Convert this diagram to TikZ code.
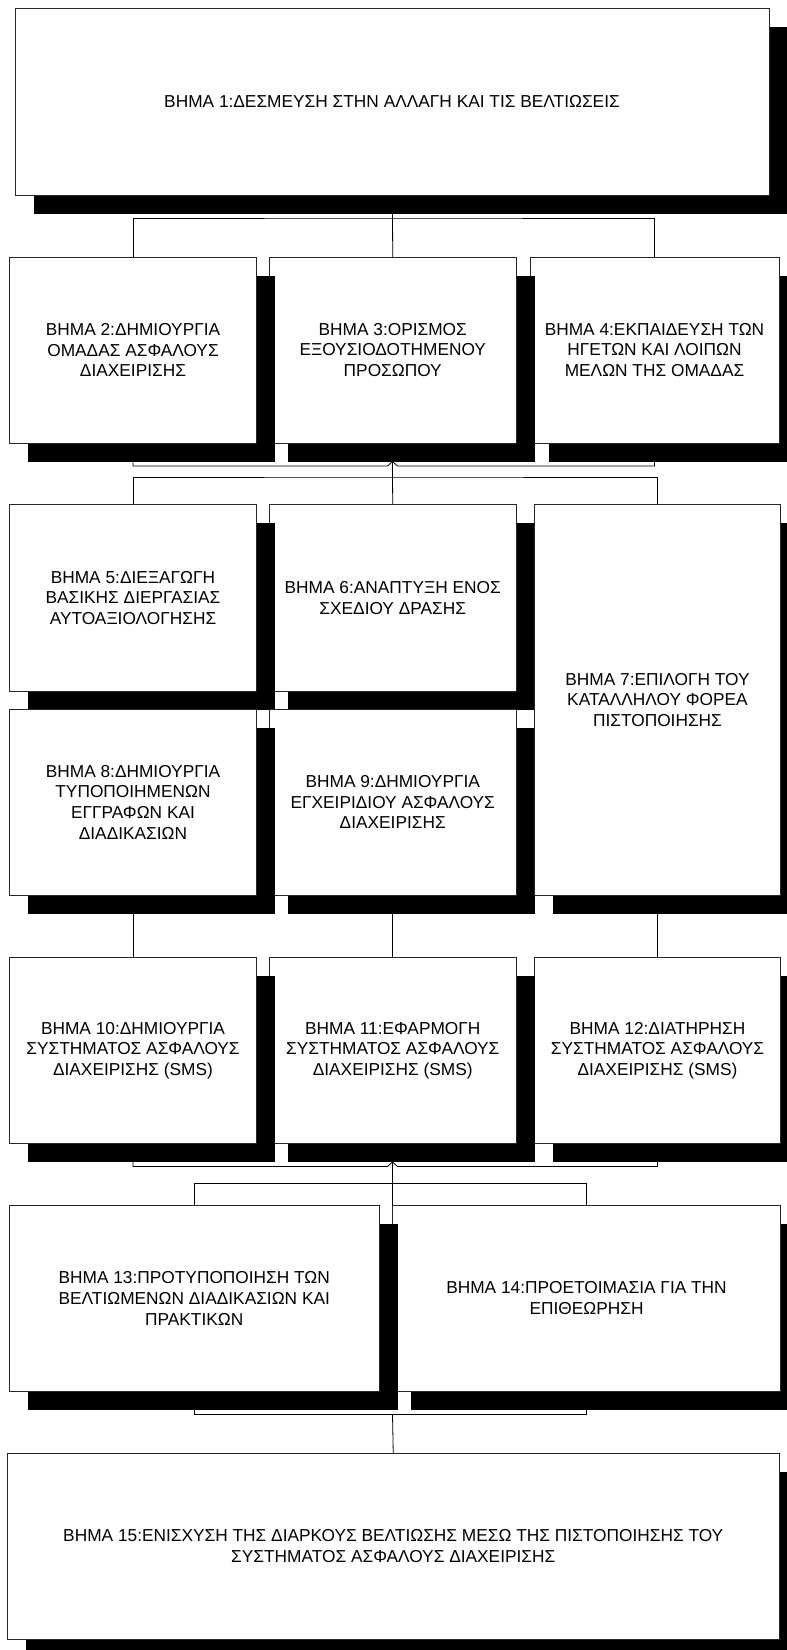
\documentclass[tikz,border=0pt]{standalone}
\usepackage{fontspec}
\setmainfont{Liberation Sans}
\usetikzlibrary{shadows}
\pgfdeclarelayer{background}
\pgfsetlayers{background,main}
\tikzset{
  stepbox/.style={draw=black!85, line width=0.9pt, fill=white, inner sep=0pt, outer sep=0pt,
    align=center, anchor=north west,
    font=\fontsize{17.3}{20.7}\selectfont,
    drop shadow={fill=black, opacity=1, shadow xshift=18.5pt, shadow yshift=-18.5pt}},
  conn/.style={draw=black, line width=0.8pt}
}
\begin{document}
\begin{tikzpicture}[x=1pt, y=-1pt]
\useasboundingbox (0,0) rectangle (787,1650);
\clip (0,0) rectangle (787,1650);

% Row 1
\node[stepbox, minimum width=754pt, minimum height=187pt] (b1) at (15,8)
  {ΒΗΜΑ 1:ΔΕΣΜΕΥΣΗ ΣΤΗΝ ΑΛΛΑΓΗ ΚΑΙ ΤΙΣ ΒΕΛΤΙΩΣΕΙΣ};

% Row 2 (right to left)
\node[stepbox, minimum width=249pt, minimum height=186pt] (b4) at (530,257)
  {ΒΗΜΑ 4:ΕΚΠΑΙΔΕΥΣΗ ΤΩΝ\\ΗΓΕΤΩΝ ΚΑΙ ΛΟΙΠΩΝ\\ΜΕΛΩΝ ΤΗΣ ΟΜΑΔΑΣ};
\node[stepbox, minimum width=246.5pt, minimum height=186pt] (b3) at (269.5,257)
  {ΒΗΜΑ 3:ΟΡΙΣΜΟΣ\\ΕΞΟΥΣΙΟΔΟΤΗΜΕΝΟΥ\\ΠΡΟΣΩΠΟΥ};
\node[stepbox, minimum width=247pt, minimum height=186pt] (b2) at (9.5,257)
  {ΒΗΜΑ 2:ΔΗΜΙΟΥΡΓΙΑ\\ΟΜΑΔΑΣ ΑΣΦΑΛΟΥΣ\\ΔΙΑΧΕΙΡΙΣΗΣ};

% Row 3
\node[stepbox, minimum width=246.5pt, minimum height=186.5pt] (b6) at (269.5,504.5)
  {ΒΗΜΑ 6:ΑΝΑΠΤΥΞΗ ΕΝΟΣ\\ΣΧΕΔΙΟΥ ΔΡΑΣΗΣ};
\node[stepbox, minimum width=247pt, minimum height=186.5pt] (b5) at (9.5,504.5)
  {ΒΗΜΑ 5:ΔΙΕΞΑΓΩΓΗ\\ΒΑΣΙΚΗΣ ΔΙΕΡΓΑΣΙΑΣ\\ΑΥΤΟΑΞΙΟΛΟΓΗΣΗΣ};
\node[stepbox, minimum width=246.5pt, minimum height=186pt] (b9) at (269.5,709)
  {ΒΗΜΑ 9:ΔΗΜΙΟΥΡΓΙΑ\\ΕΓΧΕΙΡΙΔΙΟΥ ΑΣΦΑΛΟΥΣ\\ΔΙΑΧΕΙΡΙΣΗΣ};
\node[stepbox, minimum width=247pt, minimum height=186pt] (b8) at (9.5,709)
  {ΒΗΜΑ 8:ΔΗΜΙΟΥΡΓΙΑ\\ΤΥΠΟΠΟΙΗΜΕΝΩΝ\\ΕΓΓΡΑΦΩΝ ΚΑΙ\\ΔΙΑΔΙΚΑΣΙΩΝ};
\node[stepbox, minimum width=246pt, minimum height=390.5pt] (b7) at (534.5,504.5)
  {ΒΗΜΑ 7:ΕΠΙΛΟΓΗ ΤΟΥ\\ΚΑΤΑΛΛΗΛΟΥ ΦΟΡΕΑ\\ΠΙΣΤΟΠΟΙΗΣΗΣ};

% Row 4
\node[stepbox, minimum width=246pt, minimum height=186pt] (b12) at (534.5,957.5)
  {ΒΗΜΑ 12:ΔΙΑΤΗΡΗΣΗ\\ΣΥΣΤΗΜΑΤΟΣ ΑΣΦΑΛΟΥΣ\\ΔΙΑΧΕΙΡΙΣΗΣ (SMS)};
\node[stepbox, minimum width=246.5pt, minimum height=186pt] (b11) at (269.5,957.5)
  {ΒΗΜΑ 11:ΕΦΑΡΜΟΓΗ\\ΣΥΣΤΗΜΑΤΟΣ ΑΣΦΑΛΟΥΣ\\ΔΙΑΧΕΙΡΙΣΗΣ (SMS)};
\node[stepbox, minimum width=247pt, minimum height=186pt] (b10) at (9.5,957.5)
  {ΒΗΜΑ 10:ΔΗΜΙΟΥΡΓΙΑ\\ΣΥΣΤΗΜΑΤΟΣ ΑΣΦΑΛΟΥΣ\\ΔΙΑΧΕΙΡΙΣΗΣ (SMS)};

% Row 5
\node[stepbox, minimum width=388pt, minimum height=185.5pt] (b14) at (392.5,1205.5)
  {ΒΗΜΑ 14:ΠΡΟΕΤΟΙΜΑΣΙΑ ΓΙΑ ΤΗΝ\\ΕΠΙΘΕΩΡΗΣΗ};
\node[stepbox, minimum width=369.5pt, minimum height=185.5pt] (b13) at (9.5,1205.5)
  {ΒΗΜΑ 13:ΠΡΟΤΥΠΟΠΟΙΗΣΗ ΤΩΝ\\ΒΕΛΤΙΩΜΕΝΩΝ ΔΙΑΔΙΚΑΣΙΩΝ ΚΑΙ\\ΠΡΑΚΤΙΚΩΝ};

% Row 6
\node[stepbox, minimum width=772.5pt, minimum height=185.5pt] (b15) at (7,1453.5)
  {ΒΗΜΑ 15:ΕΝΙΣΧΥΣΗ ΤΗΣ ΔΙΑΡΚΟΥΣ ΒΕΛΤΙΩΣΗΣ ΜΕΣΩ ΤΗΣ ΠΙΣΤΟΠΟΙΗΣΗΣ ΤΟΥ\\ΣΥΣΤΗΜΑΤΟΣ ΑΣΦΑΛΟΥΣ ΔΙΑΧΕΙΡΙΣΗΣ};

% Connectors
\begin{pgfonlayer}{background}
\coordinate (j1) at (392.5,218);
\coordinate (j2) at (392.5,461.5);
\coordinate (m2l) at (387.5,466);
\coordinate (m2r) at (397.5,466);
\coordinate (k2) at (392.5,477);
\coordinate (j4) at (392.5,1162);
\coordinate (m4l) at (387.5,1166.5);
\coordinate (m4r) at (397.5,1166.5);
\coordinate (k4) at (392.5,1183);
\coordinate (j5) at (392.5,1414.5);

\draw[conn] (b1.south) -- (j1) -- (b3.north);
\draw[conn] (b2.north) |- (j1) -| (b4.north);

\draw[conn] (b2.south) |- (m2l) -- (j2);
\draw[conn] (b4.south) |- (m2r) -- (j2);
\draw[conn] (b3.south) -- (j2) -- (k2);
\draw[conn] (b5.north) |- (k2) -| (b7.north);
\draw[conn] (k2) -- (b6.north);

\draw[conn] (b8.south) -- (b10.north);
\draw[conn] (b9.south) -- (b11.north);
\draw[conn] (b7.south) -- (b12.north);

\draw[conn] (b10.south) |- (m4l) -- (j4);
\draw[conn] (b12.south) |- (m4r) -- (j4);
\draw[conn] (b11.south) -- (j4) -- (k4);
\draw[conn] (b13.north) |- (k4) -| (b14.north);
\draw[conn] (k4) -- (b14.north west);

\draw[conn] (b13.south) |- (j5) -| (b14.south);
\draw[conn] (j5) -- (b15.north);
\end{pgfonlayer}
\end{tikzpicture}
\end{document}
